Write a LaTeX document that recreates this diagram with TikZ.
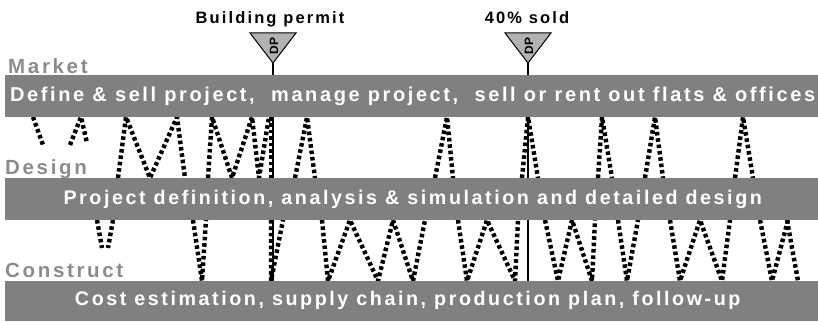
\documentclass[tikz,border=0pt]{standalone}
\usepackage{fontspec}
\setmainfont{Liberation Sans}
\newfontfamily\barfont[LetterSpace=13]{Liberation Sans}
\begin{document}
\begin{tikzpicture}[x=1pt,y=-1pt,
  phasebar/.style={fill=barfill, anchor=north west, inner sep=0pt,
    minimum width=813pt, minimum height=42pt},
  bartext/.style={inner sep=0pt, text=white,
    font=\barfont\bfseries\fontsize{20}{22}\selectfont},
  smallbartext/.style={bartext, font=\barfont\bfseries\fontsize{19.7}{22}\selectfont},
  phaselabel/.style={anchor=base west, inner sep=0pt, text=labelgray,
    font=\barfont\bfseries\fontsize{20.5}{22}\selectfont},
  milestone/.style={anchor=base, inner sep=0pt,
    font=\barfont\bfseries\fontsize{16.5}{18}\selectfont},
  dpmark/.style={fill=dpfill, draw=black, line width=1pt, line join=miter},
  dplabel/.style={rotate=90, inner sep=0pt,
    font=\bfseries\fontsize{12}{14}\selectfont},
  flow/.style={line width=4.4pt, dash pattern=on 3.6pt off 2.8pt},
  gate/.style={line width=1.4pt}]
\definecolor{barfill}{RGB}{128,128,128}
\definecolor{labelgray}{RGB}{140,140,140}
\definecolor{dpfill}{RGB}{178,178,178}
\useasboundingbox (0,0) rectangle (818,321);

% iterations between market and design
\draw[flow] (33,117)--(43,145);
\draw[flow] (70,145)--(81,117)--(87,143);
\draw[flow] (118,178)--(126,117)--(150,178)--(177,117)--(185,178);
\draw[flow] (208,178)--(212,117)--(232,178)--(252,117)--(259,178)--(269,117);
\draw[flow] (271,117)--(271,178);
\draw[flow] (295,178)--(307,117)--(315,178);
\draw[flow] (435,178)--(447,117)--(453,178);
\draw[flow] (522,178)--(528,117)--(538,178);
\draw[flow] (598,178)--(602,117)--(612,178);
\draw[flow] (645,178)--(655,117)--(663,178);
\draw[flow] (735,178)--(743,117)--(753,178);

% iterations between design and construction
\draw[flow] (97,220)--(102,248);
\draw[flow] (113,220)--(108,248);
\draw[flow] (193,220)--(202,281)--(206,220);
\draw[flow] (271,220)--(271,281)--(283,220);
\draw[flow] (322,220)--(328,281)--(350,220)--(378,281)--(393,220)--(413,281)--(425,220);
\draw[flow] (458,220)--(467,281)--(487,220)--(515,281)--(518,220);
\draw[flow] (545,220)--(558,281)--(572,220)--(592,281)--(595,220);
\draw[flow] (618,220)--(627,281)--(638,220);
\draw[flow] (670,220)--(680,281)--(700,220)--(722,281)--(730,220);
\draw[flow] (760,220)--(772,281)--(788,220);
\draw[flow] (787,220)--(798,281);

% decision points
\coordinate (bp) at (273,63);
\coordinate (sold) at (528,63);
\draw[gate] (bp) -- (273,281);
\draw[gate] (sold) -- (528,281);
\draw[dpmark] (250,33) -- (296,33) -- (bp) -- cycle;
\draw[dpmark] (505,33) -- (551,33) -- (sold) -- cycle;
\node[dplabel] (dp1) at (274,46) {DP};
\node[dplabel] (dp2) at (529,46) {DP};
\node[milestone] (permit) at (270,24) {Building permit};
\node[milestone] (forty) at (527,24) {40\% sold};

% phase bars
\node[phasebar] (market) at (5,75) {};
\node[phasebar] (design) at (5,178) {};
\node[phasebar, minimum height=40pt] (construct) at (5,281) {};
\node[bartext] (tmarket) at ([xshift=1pt]market.center) {Define \& sell project,\ \ manage project,\ \ sell or rent out flats \& offices};
\node[smallbartext] (tdesign) at ([xshift=1pt]design.center) {Project definition, analysis \& simulation and detailed design};
\node[smallbartext] (tconstruct) at ([xshift=-4pt,yshift=1pt]construct.center) {Cost estimation, supply chain, production plan, follow-up};

\node[phaselabel] (lmarket) at (8,73) {Market};
\node[phaselabel] (ldesign) at (5,174) {Design};
\node[phaselabel] (lconstruct) at (5,277) {Construct};
\end{tikzpicture}
\end{document}
